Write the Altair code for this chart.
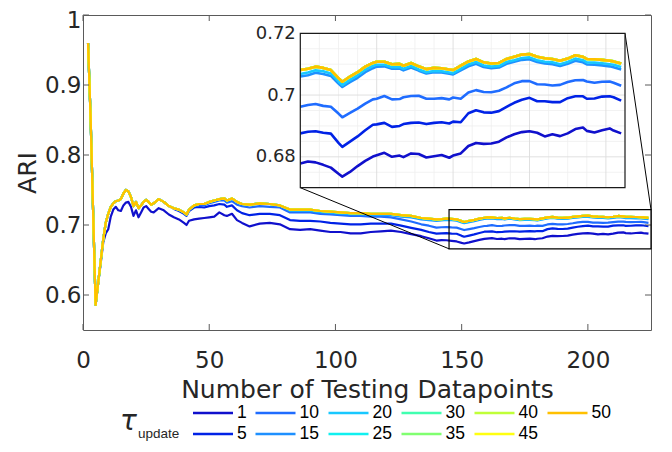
import altair as alt
import pandas as pd

# ---------------- data ----------------
TAU = [1, 5, 10, 15, 20, 25, 30, 35, 40, 45, 50]
COLORS = ['#1010cc', '#0022e6', '#1f6cff', '#1e90ff', '#18c8ff', '#10f0f0',
          '#40ffb0', '#80ff70', '#c0ff38', '#ffff10', '#ffc000']

X = [2, 3, 4, 5, 6, 7, 8, 9, 10, 11,
     12, 13, 14, 15, 16, 17, 18, 19, 20, 21,
     22, 23, 24, 25, 26, 27, 28, 30, 32, 34,
     36, 38, 40, 41, 42, 44, 46, 48, 50, 52,
     54, 56, 57, 59, 61, 63, 66, 70, 74, 78,
     82, 86, 90, 94, 98, 102, 106, 110, 114, 118,
     122, 126, 130, 134, 137, 140, 142, 144, 146, 148,
     150, 151, 153, 155, 157, 159, 160, 162, 164, 166,
     167, 169, 171, 173, 175, 177, 179, 180, 182, 184,
     186, 188, 190, 192, 194, 196, 198, 200, 202, 204,
     206, 208, 210, 212, 214, 215, 217, 219, 221, 222,
     224]

# upper cluster (tau = 25 ... 50 overlap at this resolution)
TOP = [0.960, 0.855, 0.720, 0.586, 0.617, 0.648, 0.679, 0.703, 0.716, 0.726,
       0.731, 0.734, 0.735, 0.737, 0.745, 0.750, 0.748, 0.740, 0.727, 0.733,
       0.724, 0.728, 0.733, 0.736, 0.733, 0.729, 0.731, 0.737, 0.733, 0.727,
       0.724, 0.722, 0.718, 0.715, 0.722, 0.728, 0.730, 0.730, 0.733, 0.735,
       0.737, 0.738, 0.735, 0.738, 0.733, 0.730, 0.729, 0.731, 0.730, 0.728,
       0.722, 0.722, 0.722, 0.720, 0.719, 0.718, 0.717, 0.717, 0.716, 0.716,
       0.716, 0.714, 0.713, 0.710, 0.709, 0.7081, 0.7085, 0.7092, 0.7088, 0.7081,
       0.7055, 0.7043, 0.7060, 0.7074, 0.7092, 0.7104, 0.7108, 0.7108, 0.7100, 0.7101,
       0.7095, 0.7104, 0.7093, 0.7084, 0.7088, 0.7087, 0.7083, 0.7081, 0.7095, 0.7109,
       0.7117, 0.7106, 0.7102, 0.7104, 0.7117, 0.7124, 0.7131, 0.7133, 0.7124, 0.7119,
       0.7117, 0.7111, 0.7118, 0.7129, 0.7124, 0.7117, 0.7116, 0.7114, 0.7111, 0.7109,
       0.7102]

S1 = [0.960, 0.855, 0.720, 0.586, 0.617, 0.645, 0.675, 0.688, 0.694, 0.712,
      0.722, 0.726, 0.721, 0.720, 0.728, 0.732, 0.733, 0.726, 0.713, 0.721,
      0.711, 0.718, 0.725, 0.727, 0.723, 0.719, 0.718, 0.724, 0.721, 0.715,
      0.711, 0.708, 0.703, 0.700, 0.706, 0.708, 0.709, 0.710, 0.711, 0.712,
      0.718, 0.714, 0.713, 0.716, 0.707, 0.703, 0.698, 0.702, 0.703, 0.701,
      0.694, 0.693, 0.694, 0.692, 0.690, 0.690, 0.688, 0.688, 0.690, 0.691,
      0.692, 0.690, 0.687, 0.684, 0.681, 0.6778, 0.6785, 0.6782, 0.6774, 0.6765,
      0.6745, 0.6736, 0.6751, 0.6770, 0.6787, 0.6801, 0.6805, 0.6813, 0.6800, 0.6804,
      0.6799, 0.6811, 0.6809, 0.6798, 0.6802, 0.6806, 0.6797, 0.6804, 0.6811, 0.6835,
      0.6845, 0.6842, 0.6843, 0.6849, 0.6863, 0.6873, 0.6880, 0.6883, 0.6878, 0.6866,
      0.6873, 0.6867, 0.6876, 0.6890, 0.6895, 0.6884, 0.6879, 0.6886, 0.6892, 0.6885,
      0.6876]

S5 = [0.960, 0.855, 0.720, 0.586, 0.617, 0.648, 0.679, 0.703, 0.716, 0.726,
      0.731, 0.734, 0.735, 0.737, 0.745, 0.750, 0.748, 0.740, 0.727, 0.733,
      0.724, 0.728, 0.733, 0.736, 0.733, 0.729, 0.731, 0.737, 0.733, 0.727,
      0.723, 0.720, 0.716, 0.713, 0.720, 0.725, 0.726, 0.725, 0.727, 0.728,
      0.730, 0.729, 0.726, 0.728, 0.721, 0.717, 0.714, 0.716, 0.716, 0.714,
      0.707, 0.706, 0.706, 0.705, 0.703, 0.702, 0.701, 0.701, 0.702, 0.702,
      0.702, 0.699, 0.696, 0.693, 0.690, 0.6876, 0.6881, 0.6883, 0.6878, 0.6875,
      0.6845, 0.6832, 0.6849, 0.6866, 0.6886, 0.6904, 0.6905, 0.6910, 0.6897, 0.6900,
      0.6906, 0.6910, 0.6911, 0.6906, 0.6910, 0.6912, 0.6908, 0.6914, 0.6912, 0.6941,
      0.6951, 0.6944, 0.6943, 0.6948, 0.6962, 0.6975, 0.6985, 0.6991, 0.6980, 0.6980,
      0.6977, 0.6977, 0.6990, 0.6996, 0.6996, 0.6988, 0.6989, 0.6995, 0.6996, 0.6993,
      0.6982]

S10 = [0.960, 0.855, 0.720, 0.586, 0.617, 0.648, 0.679, 0.703, 0.716, 0.726,
       0.731, 0.734, 0.735, 0.737, 0.745, 0.750, 0.748, 0.740, 0.727, 0.733,
       0.724, 0.728, 0.733, 0.736, 0.733, 0.729, 0.731, 0.737, 0.733, 0.727,
       0.724, 0.721, 0.717, 0.714, 0.721, 0.727, 0.728, 0.728, 0.731, 0.733,
       0.735, 0.735, 0.732, 0.734, 0.729, 0.727, 0.725, 0.727, 0.726, 0.725,
       0.718, 0.718, 0.718, 0.716, 0.715, 0.714, 0.713, 0.713, 0.712, 0.712,
       0.711, 0.708, 0.705, 0.701, 0.699, 0.6962, 0.6968, 0.6971, 0.6965, 0.6962,
       0.6940, 0.6928, 0.6942, 0.6956, 0.6972, 0.6986, 0.6988, 0.6997, 0.6986, 0.6987,
       0.6993, 0.6997, 0.6998, 0.6988, 0.6988, 0.6990, 0.6986, 0.6992, 0.6988, 0.7008,
       0.7016, 0.7010, 0.7009, 0.7014, 0.7025, 0.7038, 0.7045, 0.7045, 0.7035, 0.7034,
       0.7031, 0.7033, 0.7042, 0.7048, 0.7049, 0.7044, 0.7040, 0.7043, 0.7044, 0.7040,
       0.7030]

S15 = [0.960, 0.855, 0.720, 0.586, 0.617, 0.648, 0.679, 0.703, 0.716, 0.726,
       0.731, 0.734, 0.735, 0.737, 0.745, 0.750, 0.748, 0.740, 0.727, 0.733,
       0.724, 0.728, 0.733, 0.736, 0.733, 0.729, 0.731, 0.737, 0.733, 0.727,
       0.724, 0.722, 0.718, 0.715, 0.722, 0.728, 0.730, 0.730, 0.733, 0.735,
       0.737, 0.738, 0.735, 0.738, 0.733, 0.730, 0.729, 0.731, 0.730, 0.728,
       0.720, 0.720, 0.720, 0.718, 0.717, 0.716, 0.715, 0.715, 0.714, 0.714,
       0.714, 0.712, 0.711, 0.708, 0.707, 0.7060, 0.7064, 0.7072, 0.7068, 0.7062,
       0.7037, 0.7026, 0.7042, 0.7056, 0.7074, 0.7087, 0.7092, 0.7093, 0.7085, 0.7086,
       0.7080, 0.7089, 0.7079, 0.7070, 0.7074, 0.7073, 0.7069, 0.7067, 0.7080, 0.7093,
       0.7101, 0.7091, 0.7087, 0.7089, 0.7101, 0.7108, 0.7114, 0.7116, 0.7107, 0.7102,
       0.7100, 0.7094, 0.7101, 0.7111, 0.7106, 0.7099, 0.7098, 0.7096, 0.7093, 0.7090,
       0.7083]

S20 = [0.960, 0.855, 0.720, 0.586, 0.617, 0.648, 0.679, 0.703, 0.716, 0.726,
       0.731, 0.734, 0.735, 0.737, 0.745, 0.750, 0.748, 0.740, 0.727, 0.733,
       0.724, 0.728, 0.733, 0.736, 0.733, 0.729, 0.731, 0.737, 0.733, 0.727,
       0.724, 0.722, 0.718, 0.715, 0.722, 0.728, 0.730, 0.730, 0.733, 0.735,
       0.737, 0.738, 0.735, 0.738, 0.733, 0.730, 0.729, 0.731, 0.730, 0.728,
       0.721, 0.721, 0.721, 0.719, 0.718, 0.717, 0.716, 0.716, 0.715, 0.715,
       0.715, 0.713, 0.712, 0.709, 0.708, 0.7068, 0.7073, 0.7080, 0.7077, 0.7070,
       0.7044, 0.7032, 0.7049, 0.7064, 0.7082, 0.7094, 0.7098, 0.7098, 0.7090, 0.7091,
       0.7085, 0.7094, 0.7083, 0.7074, 0.7078, 0.7077, 0.7073, 0.7071, 0.7085, 0.7099,
       0.7107, 0.7096, 0.7092, 0.7094, 0.7107, 0.7113, 0.7120, 0.7122, 0.7113, 0.7108,
       0.7106, 0.7100, 0.7107, 0.7118, 0.7113, 0.7106, 0.7105, 0.7103, 0.7100, 0.7098,
       0.7091]

SERIES = {1: S1, 5: S5, 10: S10, 15: S15, 20: S20, 25: TOP, 30: TOP,
          35: TOP, 40: TOP, 45: TOP, 50: TOP}

XTICKS = [0, 50, 100, 150, 200]
YTICKS = [0.6, 0.7, 0.8, 0.9, 1.0]
MAIN_X = [0, 225]
MAIN_Y = [0.55, 1.0]
ZOOM_X = [145, 225]
ZOOM_Y = [0.666, 0.722]
INSET_X = [140, 225]
INSET_Y = [0.67, 0.72]
INSET_YTICKS = [0.68, 0.70, 0.72]
INSET_MAJOR_X = [160, 180, 200, 220]
INSET_MINOR_X = [145, 150, 155, 165, 170, 175, 185, 190, 195, 205, 210, 215]
INSET_MAJOR_Y = [0.68, 0.70]
INSET_MINOR_Y = [0.675, 0.685, 0.69, 0.695, 0.705, 0.71, 0.715]

# ---------------- layout ----------------
W, H = 568, 315
IL, IR, IT, IB = 217.3, 542.0, 18.3, 172.7   # inset box inside the plot (px)
FONT = 'DejaVu Sans'
TXT = '#262626'
AX = '#5a5a5a'


def mx(v):
    return (v - MAIN_X[0]) / (MAIN_X[1] - MAIN_X[0]) * W


def my(v):
    return (MAIN_Y[1] - v) / (MAIN_Y[1] - MAIN_Y[0]) * H


rows = []
for k in TAU:
    for xi, yi in zip(X, SERIES[k]):
        rows.append({'x': xi, 'y': yi, 'tau': k})
df = pd.DataFrame(rows)

main_x = alt.Scale(domain=MAIN_X, nice=False, zero=False)
main_y = alt.Scale(domain=MAIN_Y, nice=False, zero=False)
ins_x = alt.Scale(domain=INSET_X, range=[IL, IR], nice=False, zero=False)
ins_y = alt.Scale(domain=INSET_Y, range=[IB, IT], nice=False, zero=False)
color = alt.Color('tau:N', scale=alt.Scale(domain=TAU, range=COLORS), legend=None)

# ---------------- main panel ----------------
lines = alt.Chart(df).mark_line(strokeWidth=2.2, strokeJoin='round').encode(
    x=alt.X('x:Q', scale=main_x, axis=alt.Axis(
        values=XTICKS, ticks=False, tickSize=0, domain=False, grid=False,
        labelFont=FONT, labelFontSize=23, labelColor=TXT, labelPadding=19,
        labelFlush=False, title='Number of Testing Datapoints', titleFont=FONT,
        titleFontSize=25, titleFontWeight='normal', titleColor=TXT,
        titleBaseline='alphabetic', titleY=67)),
    y=alt.Y('y:Q', scale=main_y, axis=alt.Axis(
        orient='left', values=YTICKS, format='.1~f', ticks=False, tickSize=0,
        domain=False, grid=False, labelFont=FONT, labelFontSize=23,
        labelColor=TXT, labelPadding=2, labelFlush=False,
        labelOffset=alt.condition('datum.value >= 0.99', alt.value(5), alt.value(0)),
        title='ARI',
        titleFont=FONT, titleFontSize=25, titleFontWeight='normal',
        titleColor=TXT, titleBaseline='alphabetic', titleX=-48, titleY=H / 2,
        titleAngle=270)),
    color=color,
)

xt = pd.DataFrame({'v': XTICKS})
yt = pd.DataFrame({'v': YTICKS})
tick_b = alt.Chart(xt).mark_rule(color=AX, strokeWidth=1).encode(
    x=alt.X('v:Q', scale=main_x, axis=None), y=alt.value(H), y2=alt.value(H - 6))
tick_t = alt.Chart(xt).mark_rule(color=AX, strokeWidth=1).encode(
    x=alt.X('v:Q', scale=main_x, axis=None), y=alt.value(0), y2=alt.value(6))
tick_l = alt.Chart(yt).mark_rule(color=AX, strokeWidth=1).encode(
    y=alt.Y('v:Q', scale=main_y, axis=None), x=alt.value(0), x2=alt.value(6))
tick_r = alt.Chart(yt).mark_rule(color=AX, strokeWidth=1).encode(
    y=alt.Y('v:Q', scale=main_y, axis=None), x=alt.value(W), x2=alt.value(W - 6))

zoom_df = pd.DataFrame({'x0': [ZOOM_X[0]], 'x1': [ZOOM_X[1]],
                        'y0': [ZOOM_Y[0]], 'y1': [ZOOM_Y[1]]})
zoom_rect = alt.Chart(zoom_df).mark_rect(fillOpacity=0, stroke='black', strokeWidth=1.2).encode(
    x=alt.X('x0:Q', scale=main_x, axis=None), x2='x1:Q',
    y=alt.Y('y0:Q', scale=main_y, axis=None), y2='y1:Q')

one = pd.DataFrame({'a': [0]})
conn1 = alt.Chart(one).mark_rule(color='black', strokeWidth=1).encode(
    x=alt.value(IL), y=alt.value(IB), x2=alt.value(mx(ZOOM_X[0])), y2=alt.value(my(ZOOM_Y[0])))
conn2 = alt.Chart(one).mark_rule(color='black', strokeWidth=1).encode(
    x=alt.value(IR), y=alt.value(IT), x2=alt.value(mx(ZOOM_X[1])), y2=alt.value(my(ZOOM_Y[1])))

# ---------------- inset ----------------
box_df = pd.DataFrame({'x0': [INSET_X[0]], 'x1': [INSET_X[1]],
                       'y0': [INSET_Y[0]], 'y1': [INSET_Y[1]]})
ins_bg = alt.Chart(box_df).mark_rect(fill='white').encode(
    x=alt.X('x0:Q', scale=ins_x, axis=None), x2='x1:Q',
    y=alt.Y('y0:Q', scale=ins_y, axis=None), y2='y1:Q')


def vgrid(vals, col, sw):
    d = pd.DataFrame({'g': vals, 'lo': INSET_Y[0], 'hi': INSET_Y[1]})
    return alt.Chart(d).mark_rule(color=col, strokeWidth=sw).encode(
        x=alt.X('g:Q', scale=ins_x, axis=None),
        y=alt.Y('lo:Q', scale=ins_y, axis=None), y2='hi:Q')


def hgrid(vals, col, sw):
    d = pd.DataFrame({'g': vals, 'lo': INSET_X[0], 'hi': INSET_X[1]})
    return alt.Chart(d).mark_rule(color=col, strokeWidth=sw).encode(
        y=alt.Y('g:Q', scale=ins_y, axis=None),
        x=alt.X('lo:Q', scale=ins_x, axis=None), x2='hi:Q')


ins_lines = alt.Chart(df).transform_filter(
    alt.datum.x >= INSET_X[0]).mark_line(strokeWidth=2.6, strokeJoin='round').encode(
    x=alt.X('x:Q', scale=ins_x, axis=None),
    y=alt.Y('y:Q', scale=ins_y, axis=alt.Axis(
        orient='left', offset=-IL, values=INSET_YTICKS, format='.2~f',
        ticks=False, tickSize=0, domain=False, grid=False, labelFont=FONT,
        labelFontSize=18, labelColor=TXT, labelPadding=5, labelFlush=False,
        title=None)),
    color=color,
)
ins_border = alt.Chart(box_df).mark_rect(fillOpacity=0, stroke='#1a1a1a', strokeWidth=1.2).encode(
    x=alt.X('x0:Q', scale=ins_x, axis=None), x2='x1:Q',
    y=alt.Y('y0:Q', scale=ins_y, axis=None), y2='y1:Q')

# ---------------- legend (drawn by hand, two rows) ----------------
ROW_Y = [398, 419]
leg_rows = []
for i, k in enumerate(TAU):
    c, r = i // 2, i % 2
    lx = 110 if c == 0 else 172.5 + 73 * (c - 1)
    leg_rows.append({'tau': k, 'label': str(k), 'lx': lx, 'lx2': lx + 40,
                     'tx': lx + 44, 'ly': ROW_Y[r]})
leg = pd.DataFrame(leg_rows)
leg_lines = alt.Chart(leg).mark_rule(strokeWidth=2.6).encode(
    x=alt.X('lx:Q', scale=None, axis=None), x2='lx2:Q',
    y=alt.Y('ly:Q', scale=None, axis=None), color=color)
leg_text = alt.Chart(leg).mark_text(align='left', baseline='middle', font='Liberation Sans',
                                    fontSize=17.5, color='black').encode(
    x=alt.X('tx:Q', scale=None, axis=None), y=alt.Y('ly:Q', scale=None, axis=None),
    text='label:N')
tau_txt = alt.Chart(pd.DataFrame({'t': ['τ']})).mark_text(
    align='left', baseline='alphabetic', font='DejaVu Sans', fontStyle='italic',
    fontSize=28, color=TXT).encode(text='t:N', x=alt.value(37), y=alt.value(415))
sub_txt = alt.Chart(pd.DataFrame({'t': ['update']})).mark_text(
    align='left', baseline='alphabetic', font='Liberation Sans',
    fontSize=13.5, color=TXT).encode(text='t:N', x=alt.value(55), y=alt.value(423))

chart = alt.layer(
    lines, tick_b, tick_t, tick_l, tick_r, zoom_rect, conn1, conn2,
    ins_bg,
    vgrid(INSET_MINOR_X, '#efefef', 0.8), hgrid(INSET_MINOR_Y, '#efefef', 0.8),
    vgrid(INSET_MAJOR_X, '#dcdcdc', 0.9), hgrid(INSET_MAJOR_Y, '#dcdcdc', 0.9),
    ins_lines, ins_border,
    leg_lines, leg_text, tau_txt, sub_txt,
).resolve_scale(
    x='independent', y='independent'
).properties(
    width=W, height=H,
    autosize=alt.AutoSizeParams(type='none'),
    padding={'left': 75, 'top': 7, 'right': 5, 'bottom': 114},
).configure_view(stroke=AX, strokeWidth=1)

chart.save('out.html', embed_options={'renderer': 'svg', 'actions': False})
